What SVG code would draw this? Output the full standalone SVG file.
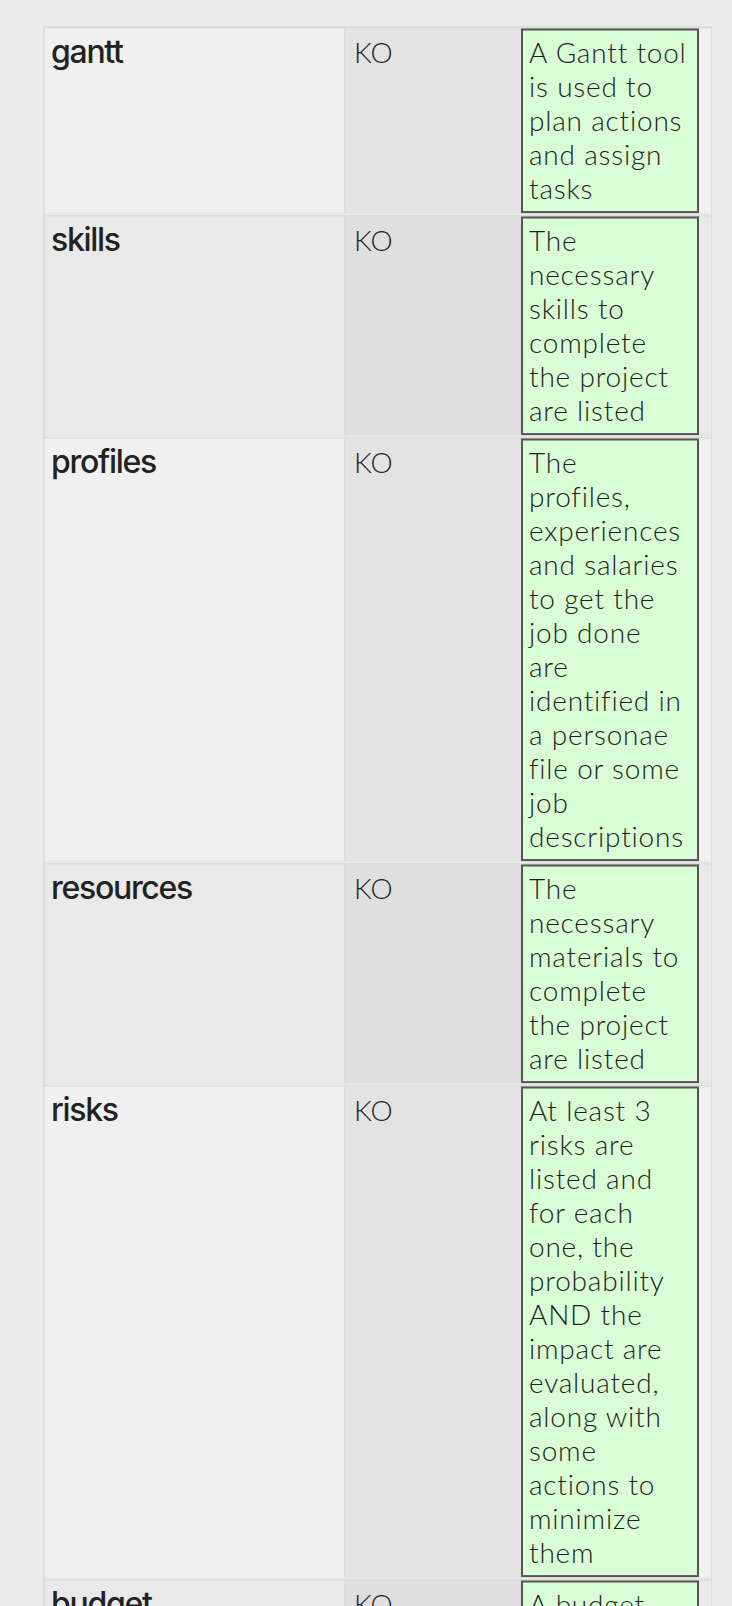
<svg xmlns="http://www.w3.org/2000/svg" width="732" height="1606" viewBox="0 0 732 1606">
<style>
.lbl{font-family:"Inter","Open Sans",sans-serif;font-size:32px;font-weight:500;letter-spacing:-1.3px;fill:#222}
.ko{font-family:"Lato","Liberation Sans",sans-serif;font-size:28px;font-weight:300;fill:#1e1e1e}
.d{font-family:"Lato","Liberation Sans",sans-serif;font-size:28px;font-weight:300;letter-spacing:0.8px;fill:#1e1e1e}
.c1o{fill:#f0f0f0}.c2o{fill:#e3e3e3}
.c1e{fill:#e9e9e9}.c2e{fill:#dfdfdf}
.box{fill:#d9fdd4;stroke:#555;stroke-width:2}
.sep{fill:#f3f3f3}
</style>
<rect x="0" y="0" width="732" height="1606" fill="#ebebeb"/>
<rect x="43" y="26" width="669" height="1600" fill="#dcdcdc"/>

<g id="row-gantt">
<rect class="c1o" x="44.7" y="28.5" width="299.3" height="184.6"/>
<rect class="c2o" x="345.3" y="28.5" width="175.7" height="184.6"/>
<rect class="c1o" x="699" y="28.5" width="12" height="184.6"/>
<rect class="box" x="522" y="29.5" width="176" height="182.6"/>
<text class="lbl" x="51" y="63">gantt</text>
<text class="ko" x="354" y="63">KO</text>
<text class="d" x="529" y="62.7">A Gantt tool<tspan x="529" dy="34">is used to</tspan><tspan x="529" dy="34">plan actions</tspan><tspan x="529" dy="34">and assign</tspan><tspan x="529" dy="34">tasks</tspan></text>
</g>
<rect class="sep" x="44.7" y="213.6" width="666.3" height="1"/>

<g id="row-skills">
<rect class="c1e" x="44.7" y="216.5" width="299.3" height="218.6"/>
<rect class="c2e" x="345.3" y="216.5" width="175.7" height="218.6"/>
<rect class="c1e" x="699" y="216.5" width="12" height="218.6"/>
<rect class="box" x="522" y="217.5" width="176" height="216.6"/>
<text class="lbl" x="51" y="251">skills</text>
<text class="ko" x="354" y="251">KO</text>
<text class="d" x="529" y="250.7">The<tspan x="529" dy="34">necessary</tspan><tspan x="529" dy="34">skills to</tspan><tspan x="529" dy="34">complete</tspan><tspan x="529" dy="34">the project</tspan><tspan x="529" dy="34">are listed</tspan></text>
</g>
<rect class="sep" x="44.7" y="435.6" width="666.3" height="1"/>

<g id="row-profiles">
<rect class="c1o" x="44.7" y="438.5" width="299.3" height="422.6"/>
<rect class="c2o" x="345.3" y="438.5" width="175.7" height="422.6"/>
<rect class="c1o" x="699" y="438.5" width="12" height="422.6"/>
<rect class="box" x="522" y="439.5" width="176" height="420.6"/>
<text class="lbl" x="51" y="473">profiles</text>
<text class="ko" x="354" y="473">KO</text>
<text class="d" x="529" y="472.7">The<tspan x="529" dy="34">profiles,</tspan><tspan x="529" dy="34">experiences</tspan><tspan x="529" dy="34">and salaries</tspan><tspan x="529" dy="34">to get the</tspan><tspan x="529" dy="34">job done</tspan><tspan x="529" dy="34">are</tspan><tspan x="529" dy="34">identified in</tspan><tspan x="529" dy="34">a personae</tspan><tspan x="529" dy="34">file or some</tspan><tspan x="529" dy="34">job</tspan><tspan x="529" dy="34">descriptions</tspan></text>
</g>
<rect class="sep" x="44.7" y="861.6" width="666.3" height="1"/>

<g id="row-resources">
<rect class="c1e" x="44.7" y="864.5" width="299.3" height="218.6"/>
<rect class="c2e" x="345.3" y="864.5" width="175.7" height="218.6"/>
<rect class="c1e" x="699" y="864.5" width="12" height="218.6"/>
<rect class="box" x="522" y="865.5" width="176" height="216.6"/>
<text class="lbl" x="51" y="899">resources</text>
<text class="ko" x="354" y="899">KO</text>
<text class="d" x="529" y="898.7">The<tspan x="529" dy="34">necessary</tspan><tspan x="529" dy="34">materials to</tspan><tspan x="529" dy="34">complete</tspan><tspan x="529" dy="34">the project</tspan><tspan x="529" dy="34">are listed</tspan></text>
</g>
<rect class="sep" x="44.7" y="1083.6" width="666.3" height="1"/>

<g id="row-risks">
<rect class="c1o" x="44.7" y="1086.5" width="299.3" height="490.6"/>
<rect class="c2o" x="345.3" y="1086.5" width="175.7" height="490.6"/>
<rect class="c1o" x="699" y="1086.5" width="12" height="490.6"/>
<rect class="box" x="522" y="1087.5" width="176" height="488.6"/>
<text class="lbl" x="51" y="1121">risks</text>
<text class="ko" x="354" y="1121">KO</text>
<text class="d" x="529" y="1120.7">At least 3<tspan x="529" dy="34">risks are</tspan><tspan x="529" dy="34">listed and</tspan><tspan x="529" dy="34">for each</tspan><tspan x="529" dy="34">one, the</tspan><tspan x="529" dy="34">probability</tspan><tspan x="529" dy="34">AND the</tspan><tspan x="529" dy="34">impact are</tspan><tspan x="529" dy="34">evaluated,</tspan><tspan x="529" dy="34">along with</tspan><tspan x="529" dy="34">some</tspan><tspan x="529" dy="34">actions to</tspan><tspan x="529" dy="34">minimize</tspan><tspan x="529" dy="34">them</tspan></text>
</g>
<rect class="sep" x="44.7" y="1577.6" width="666.3" height="1"/>

<g id="row-budget">
<rect class="c1e" x="44.7" y="1580.5" width="299.3" height="40"/>
<rect class="c2e" x="345.3" y="1580.5" width="175.7" height="40"/>
<rect class="c1e" x="699" y="1580.5" width="12" height="40"/>
<rect class="box" x="522" y="1581.5" width="176" height="60"/>
<text class="lbl" x="51" y="1615">budget</text>
<text class="ko" x="354" y="1615">KO</text>
<text class="d" x="529" y="1614.7">A budget</text>
</g>
</svg>
